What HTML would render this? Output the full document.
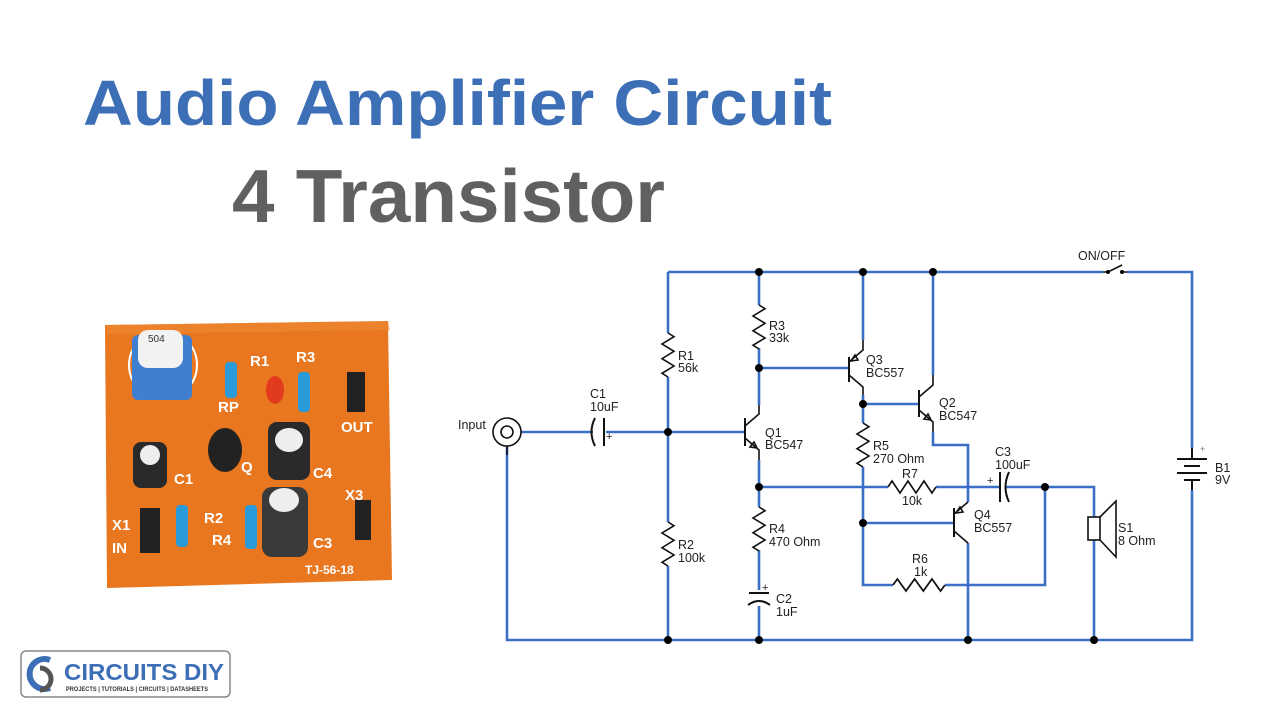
<!DOCTYPE html>
<html><head><meta charset="utf-8"><style>
html,body{margin:0;padding:0;background:#fff;}
svg{display:block;}
</style></head><body>
<svg width="1280" height="720" viewBox="0 0 1280 720" xmlns="http://www.w3.org/2000/svg" font-family="Liberation Sans, sans-serif">
<defs>
<path id="rv" d="M0,0 L6,3.7 L-6,11 L6,18.3 L-6,25.7 L6,33 L-6,40.3 L0,44" fill="none" stroke="#111" stroke-width="1.6"/>
</defs>
<rect width="1280" height="720" fill="#fff"/>
<text x="83" y="125" font-size="64" font-weight="bold" fill="#3d6fb6" textLength="749" lengthAdjust="spacingAndGlyphs">Audio Amplifier Circuit</text>
<text x="232" y="222" font-size="75" font-weight="bold" fill="#5f6060" textLength="433" lengthAdjust="spacingAndGlyphs">4 Transistor</text>

<!-- PCB -->
<g>
<polygon points="105,325 388,321 392,580 107,588" fill="#e8771f"/>
<polygon points="105,325 388,321 390,330 108,334" fill="#f08a35" opacity="0.6"/>
<circle cx="163" cy="365" r="34" fill="none" stroke="#fff" stroke-width="2"/>
<rect x="132" y="335" width="60" height="65" rx="6" fill="#3f7fd0"/>
<rect x="138" y="330" width="45" height="38" rx="10" fill="#f2f2f2"/>
<text x="148" y="342" font-size="10" fill="#333">504</text>
<g fill="#2a9bd8"><rect x="225" y="362" width="12" height="36" rx="4"/><rect x="298" y="372" width="12" height="40" rx="4"/><rect x="176" y="505" width="12" height="42" rx="4"/><rect x="245" y="505" width="12" height="44" rx="4"/></g>
<ellipse cx="275" cy="390" rx="9" ry="14" fill="#e23a1e"/>
<ellipse cx="225" cy="450" rx="17" ry="22" fill="#222"/>
<rect x="133" y="442" width="34" height="46" rx="8" fill="#2a2a2a"/><ellipse cx="150" cy="455" rx="10" ry="10" fill="#eee"/>
<rect x="268" y="422" width="42" height="58" rx="9" fill="#2a2a2a"/><ellipse cx="289" cy="440" rx="14" ry="12" fill="#eee"/>
<rect x="262" y="487" width="46" height="70" rx="10" fill="#3a3a3a"/><ellipse cx="284" cy="500" rx="15" ry="12" fill="#eee"/>
<rect x="347" y="372" width="18" height="40" fill="#222"/><rect x="355" y="500" width="16" height="40" fill="#222"/><rect x="140" y="508" width="20" height="45" fill="#222"/>
<g fill="#fff" font-weight="bold" font-size="15">
<text x="250" y="366">R1</text><text x="296" y="362">R3</text><text x="341" y="432">OUT</text><text x="174" y="484">C1</text><text x="241" y="472">Q</text><text x="313" y="478">C4</text><text x="204" y="523">R2</text><text x="212" y="545">R4</text><text x="313" y="548">C3</text><text x="112" y="530">X1</text><text x="112" y="553">IN</text><text x="218" y="412">RP</text><text x="345" y="500">X3</text>
<text x="305" y="574" font-size="12">TJ-56-18</text></g>
</g>

<!-- Logo -->
<rect x="21" y="651" width="209" height="46" rx="5" fill="#fff" stroke="#888" stroke-width="1.5"/>
<path d="M50,660 A15,15 0 1 0 50,688" fill="none" stroke="#3d6fb6" stroke-width="6"/>
<path d="M40,668 A10,10 0 0 1 40,690" fill="none" stroke="#555" stroke-width="5"/>
<text x="64" y="680" font-size="23" font-weight="bold" fill="#3d6fb6" textLength="160" lengthAdjust="spacingAndGlyphs">CIRCUITS DIY</text>
<text x="66" y="691" font-size="6" font-weight="bold" fill="#333" textLength="142" lengthAdjust="spacingAndGlyphs">PROJECTS | TUTORIALS | CIRCUITS | DATASHEETS</text>

<!-- wires -->
<g fill="none" stroke="#3a70c4" stroke-width="2.6">
<path d="M668,272 H1103 M1127,272 H1192 V448 M1192,490 V640 H507 V446"/>
<path d="M668,272 V333 M668,377 V522 M668,566 V640"/>
<path d="M521,432 H593 M606,432 H745"/>
<path d="M759,272 V305 M759,348 V405 M759,460 V507 M759,550 V590 M759,606 V640"/>
<path d="M863,272 V340 M863,395 V423 M863,467 V585 H893 M945,585 H1045 V487"/>
<path d="M759,487 H888 M936,487 H1000 M1006,487 H1094 V517 M1094,540 V640"/>
<path d="M933,272 V375 M933,432 V445 H968 V502 M968,543 V640"/>
<path d="M759,368 H849 M863,404 H919 M863,523 H954"/>
</g>
<!-- junctions -->
<g fill="#000">
<circle cx="759" cy="272" r="4"/><circle cx="863" cy="272" r="4"/><circle cx="933" cy="272" r="4"/><circle cx="668" cy="432" r="4"/><circle cx="759" cy="368" r="4"/><circle cx="863" cy="404" r="4"/><circle cx="759" cy="487" r="4"/><circle cx="863" cy="523" r="4"/><circle cx="1045" cy="487" r="4"/><circle cx="668" cy="640" r="4"/><circle cx="759" cy="640" r="4"/><circle cx="968" cy="640" r="4"/><circle cx="1094" cy="640" r="4"/>
</g>
<!-- resistors -->
<use href="#rv" x="668" y="333"/>
<use href="#rv" x="668" y="522"/>
<use href="#rv" x="759" y="305"/>
<use href="#rv" x="759" y="507"/>
<use href="#rv" x="863" y="423"/>
<use href="#rv" transform="translate(888,487) rotate(-90) scale(1,1.09)"/>
<use href="#rv" transform="translate(893,585) rotate(-90) scale(1,1.18)"/>
<!-- components -->
<g fill="none" stroke="#111" stroke-width="1.6">
<circle cx="507" cy="432" r="14"/><circle cx="507" cy="432" r="6"/><path d="M507,446 V455"/>
<path d="M595,418 Q588,432 595,446 M604,418 V446" stroke-width="2"/>
<path d="M749,593 H769 M748,605 Q759,597 770,605" stroke-width="2"/>
<path d="M1000,472 V502 M1009,472 Q1002,487 1009,502" stroke-width="2"/>
<!-- Q1 -->
<path d="M745,418 V446" stroke-width="2"/><path d="M745,426 L759,414 V405 M745,438 L759,450 V460"/>
<path d="M757,448 L750,447 L754,442 Z"/>
<!-- Q3 -->
<path d="M849,357 V382" stroke-width="2"/><path d="M849,362 L863,350 V340 M849,375 L863,387 V395"/>
<path d="M851,361 L858,360 L855,355 Z"/>
<!-- Q2 -->
<path d="M919,390 V417" stroke-width="2"/><path d="M919,397 L933,385 V375 M919,410 L933,422 V432"/>
<path d="M931,420 L924,419 L928,414 Z"/>
<!-- Q4 -->
<path d="M954,508 V537" stroke-width="2"/><path d="M954,514 L968,502 M954,531 L968,543"/>
<path d="M956,513 L963,512 L960,507 Z"/>
<!-- switch -->
<path d="M1103,272 H1108 L1122,265 M1122,272 H1127"/>
<!-- battery -->
<path d="M1192,448 V459 M1177,459 H1207 M1184,466 H1200 M1177,473 H1207 M1184,480 H1200 M1192,480 V490" stroke-width="2"/>
<!-- speaker -->
<rect x="1088" y="517" width="12" height="23"/><path d="M1100,517 L1116,501 V557 L1100,540"/>
</g>
<g fill="#000"><circle cx="1108" cy="272" r="2"/><circle cx="1122" cy="272" r="2"/></g>
<!-- labels -->
<g font-size="12.5" fill="#222">
<text x="458" y="429">Input</text>
<text x="590" y="398">C1</text><text x="590" y="411">10uF</text><text x="606" y="440" font-size="11">+</text>
<text x="678" y="360">R1</text><text x="678" y="372">56k</text>
<text x="678" y="549">R2</text><text x="678" y="562">100k</text>
<text x="769" y="330">R3</text><text x="769" y="342">33k</text>
<text x="765" y="437">Q1</text><text x="765" y="449">BC547</text>
<text x="769" y="533">R4</text><text x="769" y="546">470 Ohm</text>
<text x="762" y="591" font-size="11">+</text>
<text x="776" y="603">C2</text><text x="776" y="616">1uF</text>
<text x="866" y="364">Q3</text><text x="866" y="377">BC557</text>
<text x="939" y="407">Q2</text><text x="939" y="420">BC547</text>
<text x="873" y="450">R5</text><text x="873" y="463">270 Ohm</text>
<text x="902" y="478">R7</text><text x="902" y="505">10k</text>
<text x="995" y="456">C3</text><text x="995" y="469">100uF</text><text x="987" y="484" font-size="11">+</text>
<text x="974" y="519">Q4</text><text x="974" y="532">BC557</text>
<text x="912" y="563">R6</text><text x="914" y="576">1k</text>
<text x="1118" y="532">S1</text><text x="1118" y="545">8 Ohm</text>
<text x="1078" y="260">ON/OFF</text>
<text x="1215" y="472">B1</text><text x="1215" y="484">9V</text>
<text x="1200" y="452" font-size="9" fill="#777">+</text>
</g>
</svg>
</body></html>
